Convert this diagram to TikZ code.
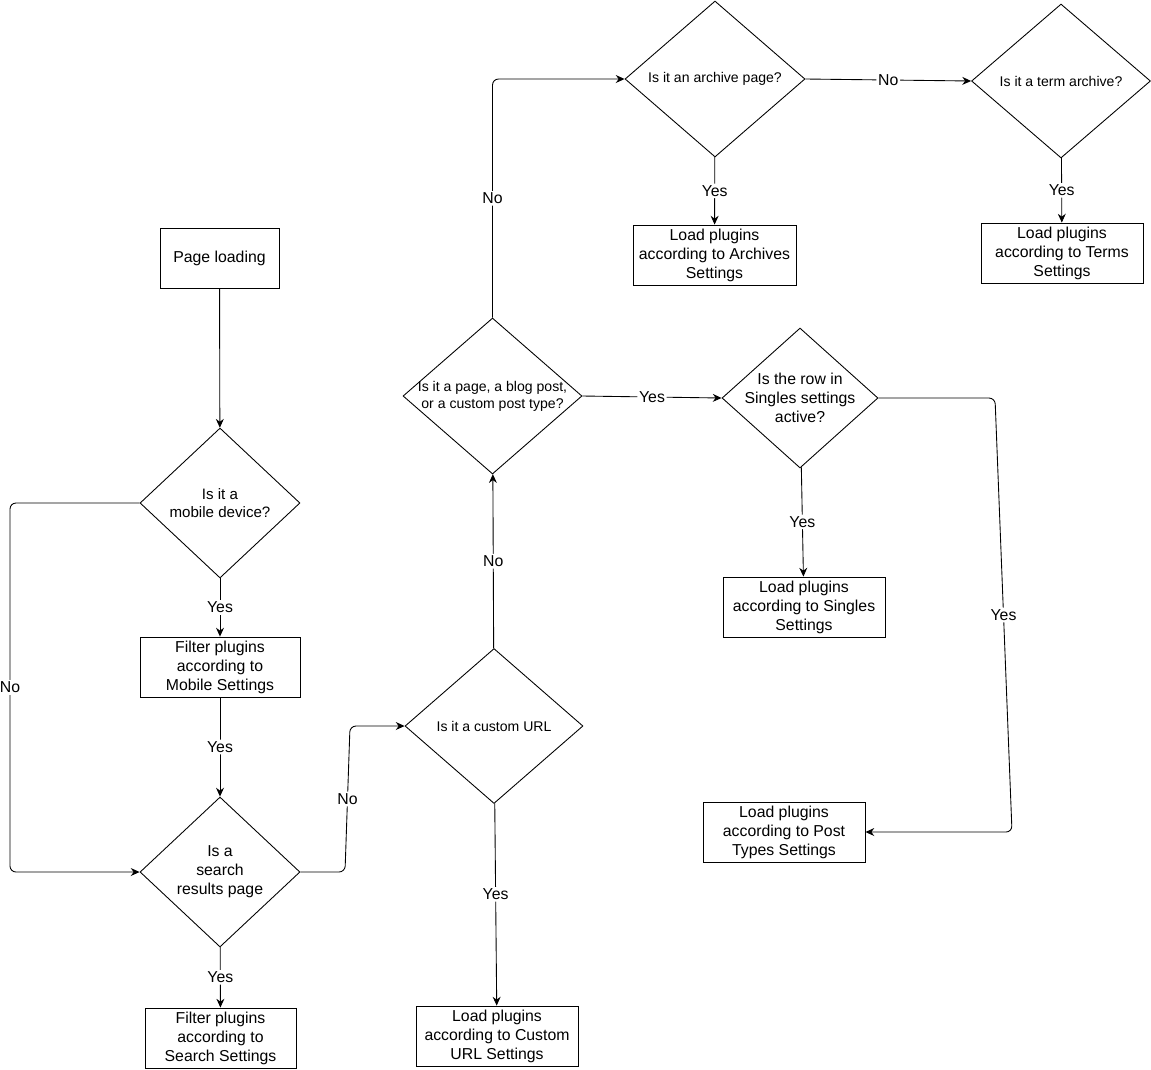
\documentclass[tikz,border=0pt]{standalone}
\usepackage{fontspec}
\setmainfont{Liberation Sans}
\usetikzlibrary{shapes.geometric,arrows.meta}

\begin{document}
\begin{tikzpicture}[x=0.02cm,y=-0.02cm,line width=0.5pt,
    box/.style={draw,rectangle,minimum width=3.24cm,minimum height=1.2cm,
      inner sep=0pt,align=center,font=\fontsize{9}{10.8}\selectfont},
    decision/.style={draw,diamond,inner sep=0pt},
    qtext/.style={align=center,inner sep=0pt,font=\fontsize{8}{9.8}\selectfont},
    qbig/.style={qtext,font=\fontsize{9}{10.8}\selectfont},
    lbl/.style={fill=white,inner sep=1pt,font=\fontsize{9}{10}\selectfont}]
  \useasboundingbox (0,0) rectangle (1151,1069);
  \draw
    (219.5,258) node[box,minimum width=2.38cm] (start) {Page loading}
    (220,503) node[decision,minimum width=3.2cm,minimum height=3cm,
      label={[qtext,font=\fontsize{8.6}{10.2}\selectfont]center:Is it a\\mobile device?}] (mobile) {}
    (220,667) node[box,minimum width=3.2cm] (mfilter) {Filter plugins\\according to\\Mobile Settings}
    (220,872) node[decision,minimum width=3.2cm,minimum height=3cm,
      label={[qbig]center:Is a\\search\\results page}] (search) {}
    (220.5,1038) node[box,minimum width=3.02cm] (sfilter) {Filter plugins\\according to\\Search Settings}
    (494,726) node[decision,minimum width=3.56cm,minimum height=3.1cm,
      label={[qtext]center:Is it a custom URL}] (custom) {}
    (497,1036) node[box] (cbox) {Load plugins\\according to Custom\\URL Settings}
    (492.5,396) node[decision,minimum width=3.58cm,minimum height=3.12cm,
      label={[qtext]center:Is it a page, a blog post,\\or a custom post type?}] (post) {}
    (800,398) node[decision,minimum width=3.12cm,minimum height=2.8cm,
      label={[qbig]center:Is the row in\\Singles settings\\active?}] (singles) {}
    (804,607) node[box] (sbox) {Load plugins\\according to Singles\\Settings}
    (784,832) node[box] (tbox) {Load plugins\\according to Post\\Types Settings}
    (715,79) node[decision,minimum width=3.6cm,minimum height=3.12cm,
      label={[qtext]center:Is it an archive page?}] (archive) {}
    (714.5,255) node[box,minimum width=3.26cm] (abox) {Load plugins\\according to Archives\\Settings}
    (1061,81) node[decision,minimum width=3.58cm,minimum height=3.08cm,
      label={[qtext]center:Is it a term archive?}] (term) {}
    (1062,253) node[box] (rbox) {Load plugins\\according to Terms\\Settings};
  \begin{scope}[-{Stealth[length=5pt,width=4.5pt]},rounded corners=0.12cm]
    \draw (start) -- (mobile);
    \draw (mobile) -- node[lbl] {Yes} (mfilter);
    \draw (mobile.west) -- (10,503) -- node[lbl] {No} (10,872) -- (search.west);
    \draw (mfilter) -- node[lbl] {Yes} (search);
    \draw (search) -- node[lbl] {Yes} (sfilter);
    \draw (search.east) -- (345,872) -- node[lbl] {No} (350,726) -- (custom.west);
    \draw (custom) -- node[lbl,pos=0.45] {Yes} (cbox);
    \draw (custom) -- node[lbl] {No} (post);
    \draw (post.north) -- node[lbl] {No} (492.5,79) -- (archive.west);
    \draw (archive.east) -- node[lbl] {No} (term.west);
    \draw (archive) -- node[lbl] {Yes} (abox);
    \draw (term) -- node[lbl] {Yes} (rbox);
    \draw (post.east) -- node[lbl] {Yes} (singles.west);
    \draw (singles) -- node[lbl] {Yes} (sbox);
    \draw (singles.east) -- (995,398) -- node[lbl] {Yes} (1012,832) -- (tbox.east);
  \end{scope}
\end{tikzpicture}
\end{document}
